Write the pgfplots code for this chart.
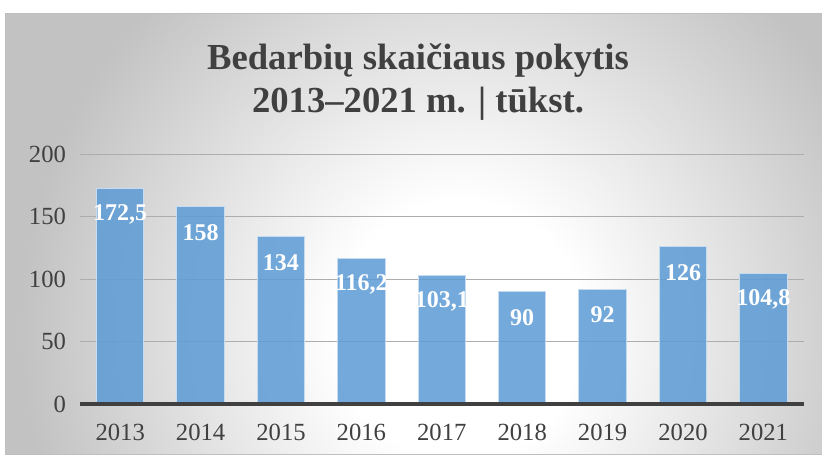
\documentclass[border=0pt]{standalone}
\usepackage{fontspec}
\setmainfont{Liberation Serif}
\usepackage{pgfplots}
\pgfplotsset{compat=1.18}
\definecolor{bggray}{HTML}{C2C2C2}
\definecolor{txt}{HTML}{404040}
\definecolor{barblue}{HTML}{5B9BD5}
\definecolor{baredge}{HTML}{C5DCF0}
\definecolor{gridc}{HTML}{ADADAD}
\definecolor{framec}{HTML}{BFBFBF}
\pgfdeclareradialshading{bgshade}{\pgfpoint{0bp}{0bp}}{color(0bp)=(white); color(7bp)=(white); color(25bp)=(bggray); color(50bp)=(bggray)}

\begin{document}
\begin{tikzpicture}
\path[use as bounding box] (0,0) rectangle (616.5pt,342pt);
\fill[bggray] (3.75pt,0.75pt) rectangle (616.5pt,331.5pt);
\begin{scope}
\clip (3.75pt,0.75pt) rectangle (616.5pt,331.5pt);
\shade[shading=bgshade] (345pt,94.5pt) ellipse [x radius=330pt, y radius=345pt];
\end{scope}
\draw[line width=0.75pt, color=framec] (616.5pt,0.75pt) -- (3.75pt,0.75pt) -- (3.75pt,331.5pt) -- (616.5pt,331.5pt);

\node[anchor=base, text=txt, font=\fontsize{27.5}{33}\selectfont\bfseries, inner sep=0pt] at (313.5pt,290pt) {Bedarbių skaičiaus pokytis};
\node[anchor=base, text=txt, font=\fontsize{27.5}{33}\selectfont\bfseries, inner sep=0pt] at (313.5pt,257.5pt) {2013–2021 m. | tūkst.};

\begin{axis}[
  at={(60pt,39pt)}, anchor=south west,
  scale only axis, width=542.7pt, height=187.3pt,
  ybar, bar width=35.6pt,
  xmin=-0.5, xmax=8.5, ymin=0, ymax=200,
  ytick={0,50,100,150,200},
  xtick=data,
  xticklabels={2013,2014,2015,2016,2017,2018,2019,2020,2021},
  axis line style={draw=none},
  major tick length=0pt,
  ymajorgrids,
  grid style={color=gridc, line width=0.9pt},
  tick label style={font=\fontsize{18.5}{18.5}\selectfont, text=txt},
  /pgf/number format/assume math mode=true,
  yticklabel style={xshift=-7pt},
  xticklabel style={yshift=-11.5pt},
  nodes near coords={\pgfmathprintnumber[fixed,precision=1,use comma,assume math mode=true]{\pgfplotspointmeta}},
  every node near coord/.append style={font=\fontsize{18}{18}\selectfont\bfseries, text=white, text opacity=1, anchor=center, yshift=-19.5pt},
  clip=false,
]
\addplot[fill=barblue, fill opacity=0.85, draw=baredge, line width=0.75pt]
  coordinates {(0,172.5) (1,158) (2,134) (3,116.2) (4,103.1) (5,90) (6,92) (7,126) (8,104.8)};
\draw[line width=2.6pt, color=txt] (axis cs:-0.5,0) -- (axis cs:8.5,0);
\end{axis}
\end{tikzpicture}
\end{document}
